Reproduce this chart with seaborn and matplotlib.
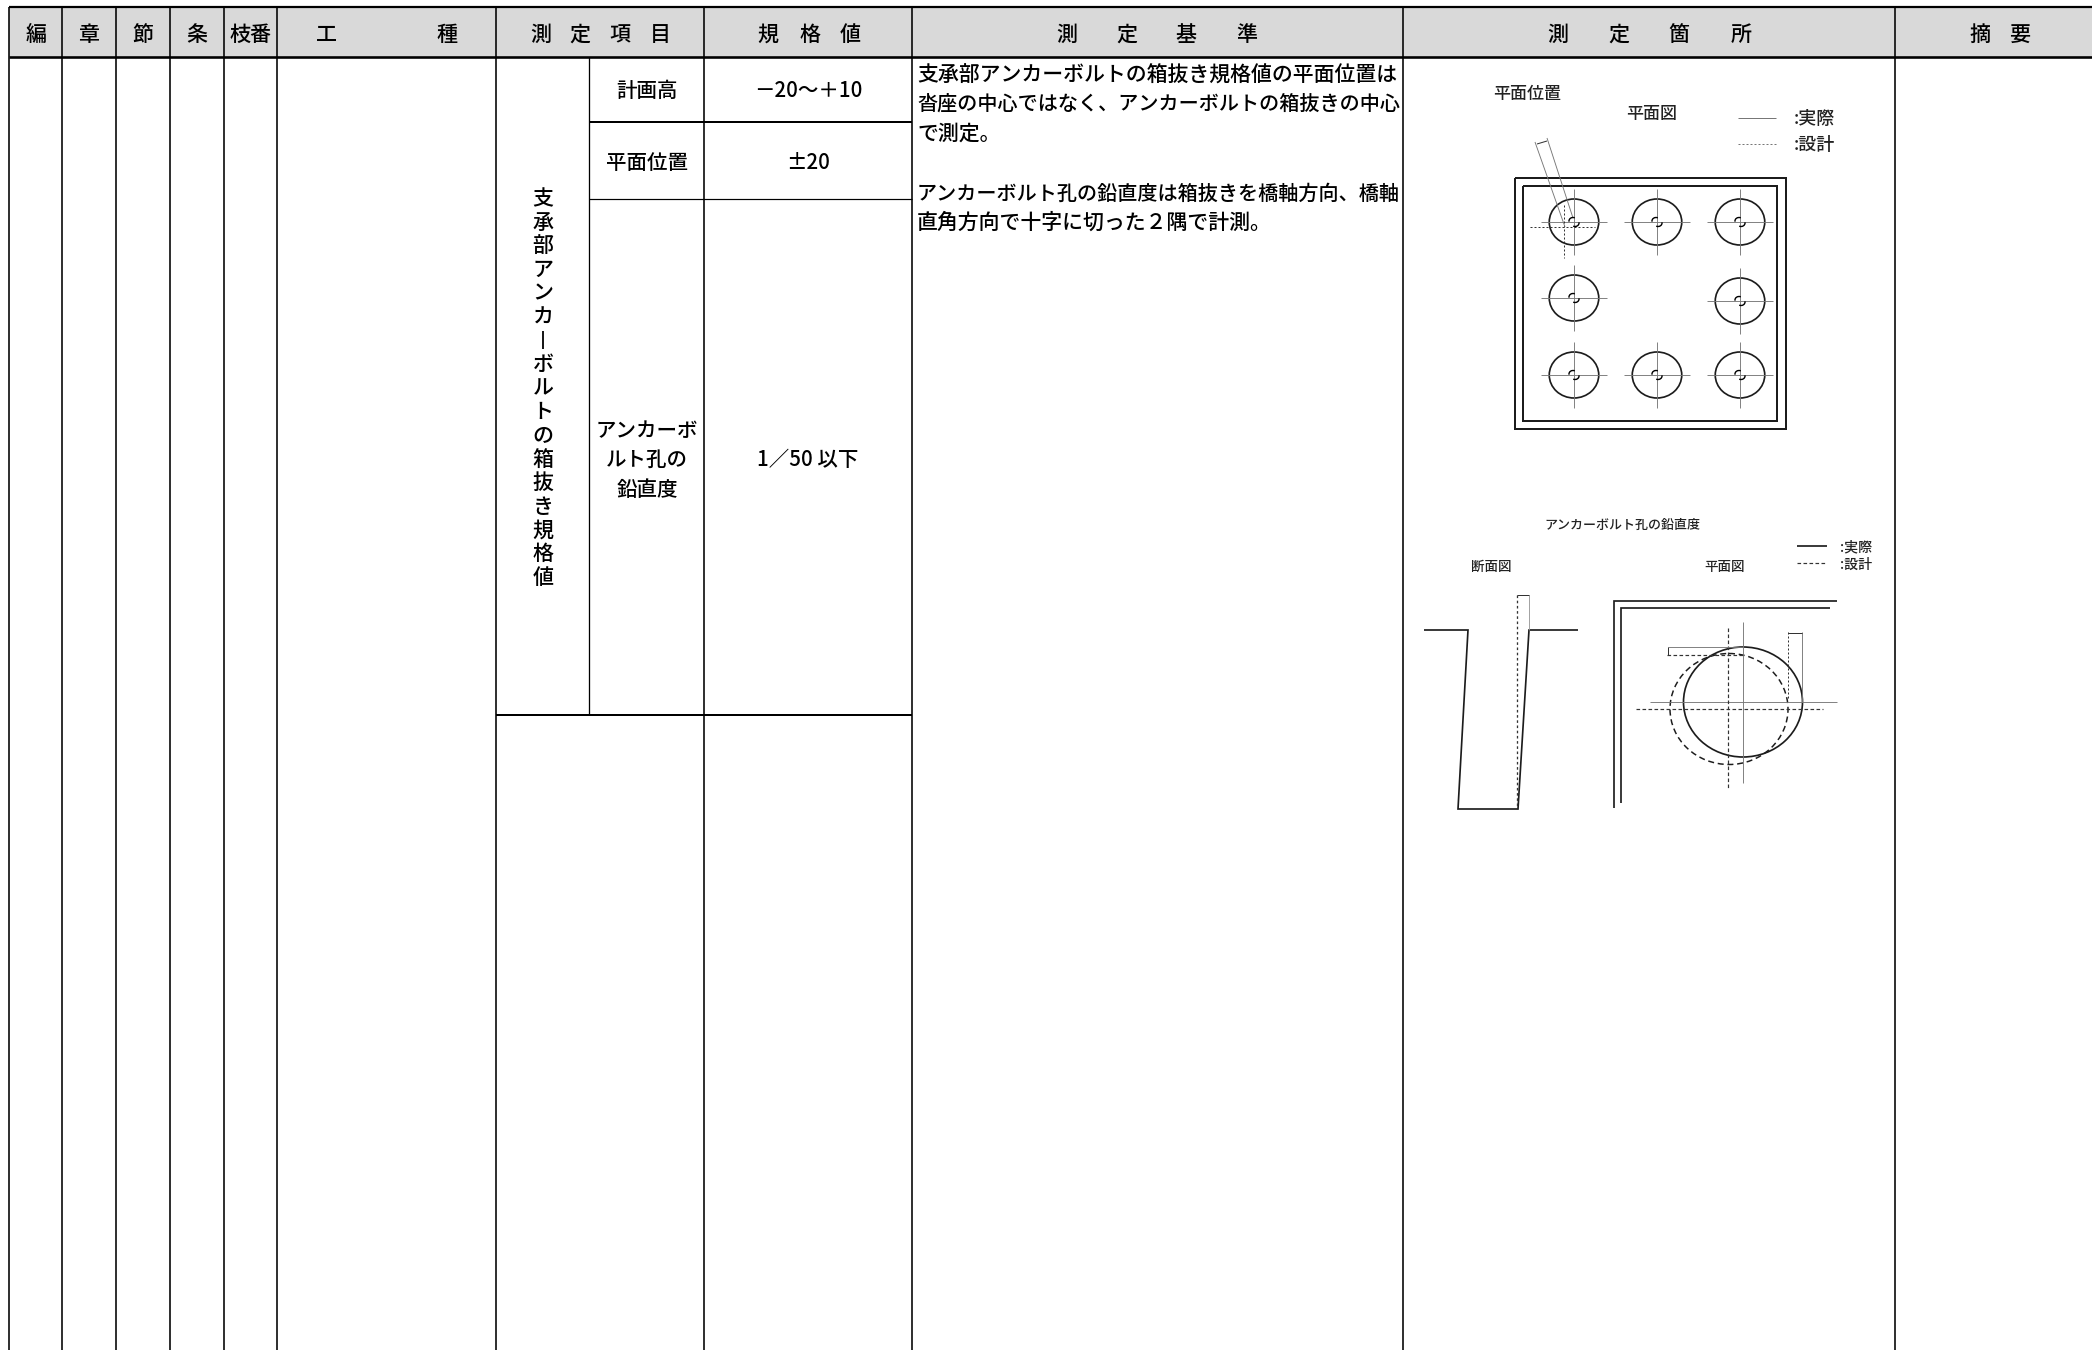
import matplotlib
matplotlib.use("Agg")
import matplotlib.pyplot as plt
from matplotlib.patches import Ellipse, Arc, Rectangle
import seaborn as sns

sns.set_theme(style="white")
plt.rcParams['font.family'] = ['Noto Sans CJK JP', 'DejaVu Sans']

# ---- table layout and text ----
column_edges = [9, 62, 116, 169.5, 223.5, 276.5, 496, 704, 912, 1403, 1895]
header_top, header_bottom = 7, 57
header_labels = [("編", 36), ("章", 89), ("節", 143), ("条", 197), ("枝番", 250),
                 ("工", 326), ("種", 447),
                 ("測", 541), ("定", 580), ("項", 620), ("目", 660),
                 ("規", 768), ("格", 810), ("値", 850),
                 ("測", 1067), ("定", 1127), ("基", 1186), ("準", 1247),
                 ("測", 1558), ("定", 1619), ("箇", 1679), ("所", 1741),
                 ("摘", 1980), ("要", 2020)]
item_labels = [("計画高", 647, 91), ("平面位置", 647, 163),
               ("アンカーボ", 647, 431), ("ルト孔の", 647, 460), ("鉛直度", 647, 490)]
spec_labels = [("－20～＋10", 808, 91), ("±20", 808, 163), ("1／50 以下", 808, 460)]
basis_lines = [("支承部アンカーボルトの箱抜き規格値の平面位置は", 76, 20.9),
               ("沓座の中心ではなく、アンカーボルトの箱抜きの中心", 105, 20.1),
               ("で測定。", 134, 20.9),
               ("アンカーボルト孔の鉛直度は箱抜きを橋軸方向、橋軸", 194, 20.1),
               ("直角方向で十字に切った２隅で計測。", 223, 20.9)]
vertical_chars = list("支承部アンカーボルトの箱抜き規格値")

# ---- plan view diagram ----
plan_frames = [(1515, 178, 1786, 429), (1523, 186, 1777, 421)]
hole_x = [1574, 1657, 1740, 1574, 1740, 1574, 1657, 1740]
hole_y = [222, 222, 222, 298, 301, 375, 375, 375]

# ---- verticality diagram ----
section_x = [1424, 1468, 1458, 1518, 1529, 1578]
section_y = [630, 630, 809, 809, 630, 630]
corner_outer_x, corner_outer_y = [1837, 1614, 1614], [601, 601, 808]
corner_inner_x, corner_inner_y = [1830, 1621, 1621], [608, 608, 803]

fig = plt.figure(figsize=(20.92, 13.5), dpi=100, facecolor="white")
ax = fig.add_axes([0, 0, 1, 1])
PX = 0.72
INK = "#000000"
DRAW = "#1c1c1c"
THIN = "#777777"


def seg(xs, ys, px=1.5, color=INK, ls="-", zorder=3):
    sns.lineplot(x=xs, y=ys, ax=ax, estimator=None, sort=False, color=color,
                 linewidth=px * PX, linestyle=ls, zorder=zorder,
                 solid_capstyle="butt", solid_joinstyle="miter", errorbar=None)


def label(text, x, y, px=21, color="#000000", ha="center", weight=500):
    ax.text(x, y, text, fontsize=px * PX, color=color, ha=ha, va="center",
            fontweight=weight, zorder=5)


# header band
ax.add_patch(Rectangle((column_edges[0], header_top), 2092 - column_edges[0],
                       header_bottom - header_top, facecolor="#d9d9d9",
                       edgecolor="none", zorder=1))
# table rules
for x in column_edges:
    seg([x, x], [header_top, 1350], px=1.6)
seg([589, 589], [header_bottom, 715], px=1.3)
seg([column_edges[0], 2092], [header_top, header_top], px=2.2)
seg([column_edges[0], 2092], [header_bottom, header_bottom], px=2.6)
seg([589, 912], [122, 122], px=2.0)
seg([589, 912], [199, 199], px=1.2)
seg([496, 912], [715, 715], px=2.0)

for text, x in header_labels:
    label(text, x, 35)
for text, x, y in item_labels + spec_labels:
    label(text, x, y, px=20.5)
for text, y, size in basis_lines:
    label(text, 917, y, px=size, ha="left")
for i, ch in enumerate(vertical_chars):
    y = 198 + i * (577 - 198) / (len(vertical_chars) - 1)
    if ch == "ー":
        seg([543, 543], [y - 9, y + 9], px=1.8, color="#000000")
    else:
        label(ch, 543, y + 1)

# plan view
for (x0, y0, x1, y1) in plan_frames:
    seg([x0, x1, x1, x0, x0], [y0, y0, y1, y1, y0], px=2.0, color=DRAW)
for cx, cy in zip(hole_x, hole_y):
    ax.add_patch(Ellipse((cx, cy), 49.5, 46, fill=False, edgecolor=DRAW,
                         linewidth=1.7 * PX, zorder=3))
    seg([cx - 33, cx + 33], [cy, cy], px=0.9, color=THIN)
    seg([cx, cx], [cy - 33, cy + 33], px=0.9, color=THIN)
    ax.add_patch(Arc((cx - 1, cy - 1), 8, 7, theta1=170, theta2=300, edgecolor=INK,
                     linewidth=1.4 * PX, zorder=4))
    ax.add_patch(Arc((cx + 1, cy + 1), 8, 7, theta1=-10, theta2=120, edgecolor=INK,
                     linewidth=1.4 * PX, zorder=4))
seg([1530, 1595], [227, 227], px=1.0, color="#333333", ls=(0, (2, 2)))
seg([1564, 1564], [205, 258], px=1.0, color="#333333", ls=(0, (2, 2)))
seg([1535, 1565], [142, 227], px=0.9, color=THIN)
seg([1547, 1573], [138, 218], px=0.9, color=THIN)
seg([1537, 1547], [144, 141], px=1.0, color="#333333")
seg([1738, 1776], [118, 118], px=1.0, color=THIN)
seg([1738, 1776], [144, 144], px=1.0, color=THIN, ls=(0, (2, 2)))
label("平面位置", 1527, 94, px=17, color="#222222")
label("平面図", 1652, 114, px=17, color="#222222")
label(":実際", 1814, 119, px=18, color="#222222")
label(":設計", 1814, 145, px=18, color="#222222")

# verticality: section
seg(section_x, section_y, px=1.7, color=DRAW)
seg([1517, 1517], [595, 809], px=1.3, color="#333333", ls=(0, (2, 2)))
seg([1529, 1529], [595, 630], px=0.9, color="#999999")
seg([1517, 1529], [595, 595], px=1.0, color="#333333")

# verticality: plan corner
seg(corner_outer_x, corner_outer_y, px=1.7, color=DRAW)
seg(corner_inner_x, corner_inner_y, px=1.7, color=DRAW)
ax.add_patch(Ellipse((1743, 702), 119, 110, fill=False, edgecolor=DRAW,
                     linewidth=1.7 * PX, zorder=3))
ax.add_patch(Ellipse((1729, 709), 118, 111, fill=False, edgecolor=DRAW,
                     linewidth=1.5 * PX, linestyle=(0, (4, 2.5)), zorder=3))
seg([1743, 1743], [622, 783], px=0.9, color=THIN)
seg([1650, 1837], [702, 702], px=0.9, color=THIN)
seg([1728, 1728], [628, 789], px=1.2, color="#333333", ls=(0, (3, 2)))
seg([1636, 1823], [709, 709], px=1.2, color="#333333", ls=(0, (3, 2)))
seg([1668, 1743], [647, 647], px=0.9, color=THIN)
seg([1667, 1743], [655, 655], px=1.2, color="#333333", ls=(0, (3, 2)))
seg([1668, 1668], [647, 655], px=1.0, color="#333333")
seg([1788, 1788], [632, 700], px=1.0, color="#333333", ls=(0, (2, 2)))
seg([1802, 1802], [632, 702], px=0.9, color=THIN)
seg([1788, 1802], [633, 633], px=1.0, color="#333333")
seg([1797, 1827], [546, 546], px=1.7, color=DRAW)
seg([1797, 1827], [563, 563], px=1.2, color="#333333", ls=(0, (3, 2)))
label("アンカーボルト孔の鉛直度", 1622, 525, px=13, color="#222222")
label("断面図", 1491, 567, px=13.5, color="#222222")
label("平面図", 1725, 567, px=13.5, color="#222222")
label(":実際", 1856, 547, px=14, color="#222222")
label(":設計", 1856, 565, px=14, color="#222222")

ax.set_xlim(0, 2092)
ax.set_ylim(1350, 0)
ax.axis("off")
fig.savefig("out.png", dpi=100, facecolor="white")
